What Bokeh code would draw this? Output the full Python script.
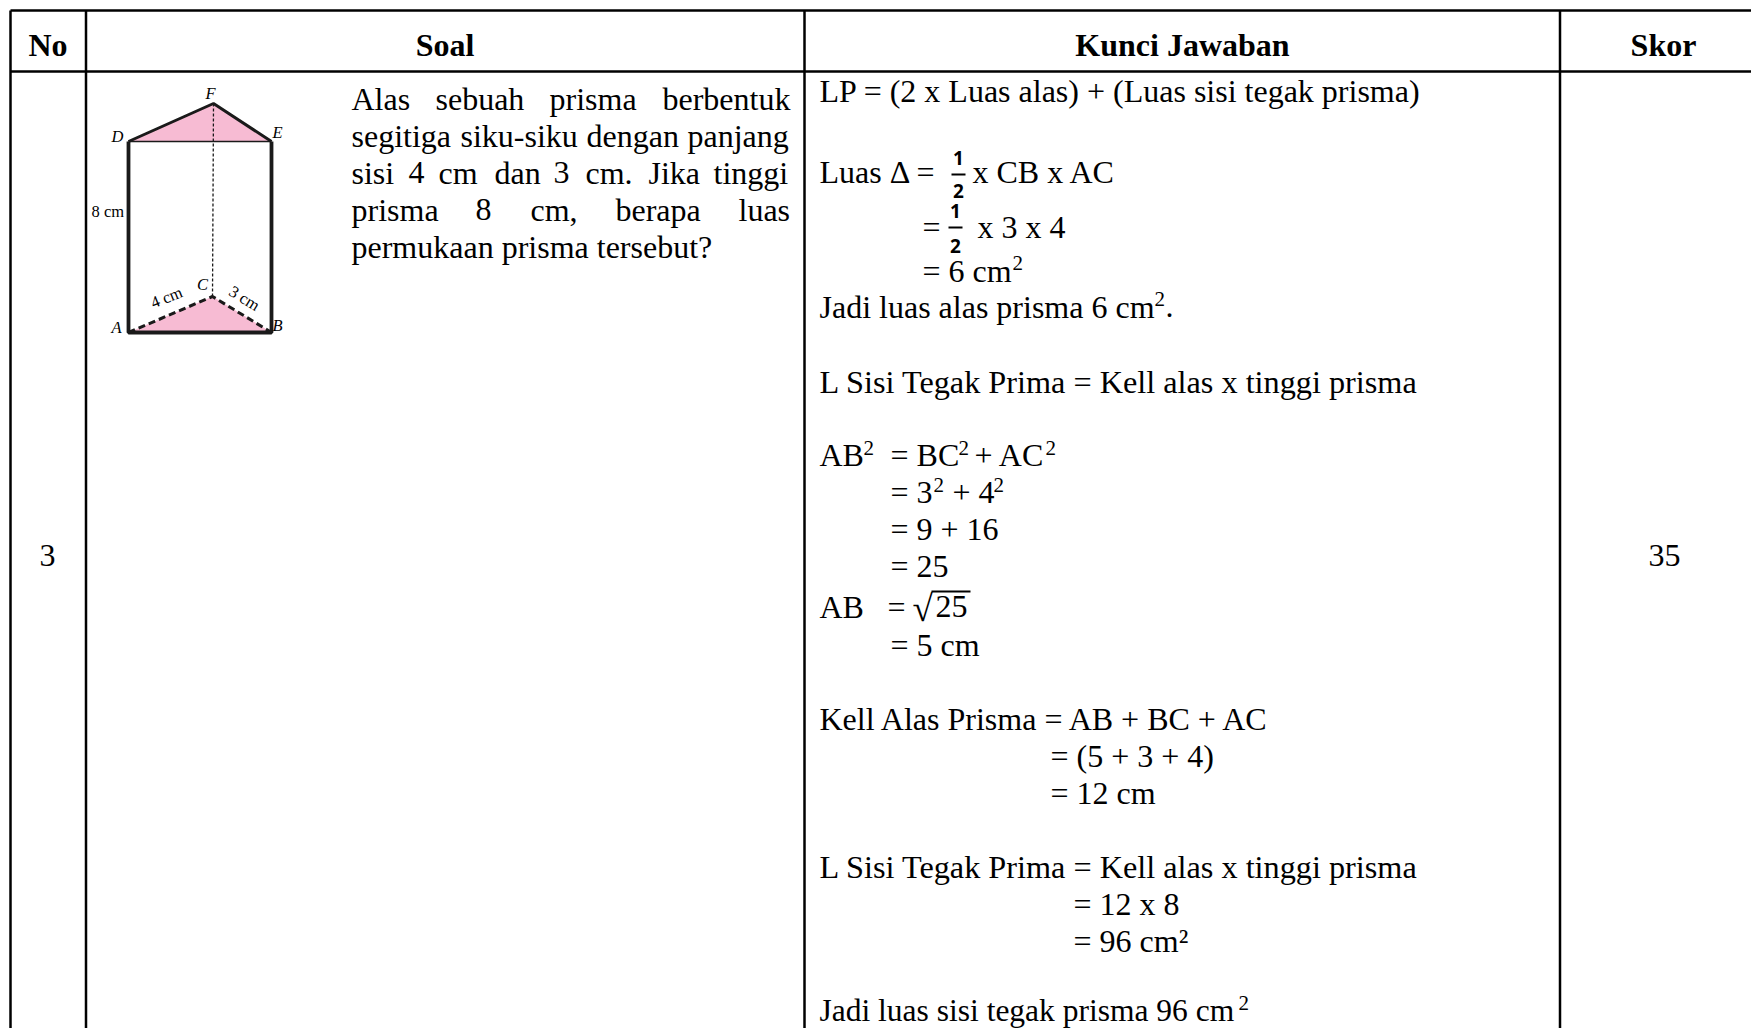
from bokeh.plotting import figure
from bokeh.models import Range1d, ColumnDataSource
from bokeh.core.properties import value
from bokeh.embed import file_html
from bokeh.resources import INLINE

SERIF = "Liberation Serif"
BIG = 32

# Table structure
col_edges = [10, 85.5, 804, 1559.5]
row_edges = [10, 71]
headers = ["No", "Soal", "Kunci Jawaban", "Skor"]
header_x = [47.5, 444.5, 1182, 1663]
row_no, row_score = "3", "35"

# Question text (word, x, baseline)
q_words = ["Alas", "sebuah", "prisma", "berbentuk",
           "segitiga", "siku-siku", "dengan", "panjang",
           "sisi", "4", "cm", "dan", "3", "cm.", "Jika", "tinggi",
           "prisma", "8", "cm,", "berapa", "luas",
           "permukaan prisma tersebut?"]
q_x = [351, 435, 549, 662, 351, 460, 586, 687, 351, 408, 438, 494, 553, 585, 648, 713,
       351, 475, 530, 615, 738, 351]
q_y = [110]*4 + [147]*4 + [184]*8 + [221]*5 + [258]

# Answer text
a_text = ["LP = (2 x Luas alas) + (Luas sisi tegak prisma)",
          "Luas \u0394 =", "x CB x AC", "=", "x 3 x 4", "= 6 cm", "Jadi luas alas prisma 6 cm", ".",
          "AB", "= BC", "+ AC", "= 3", "+ 4", "= 9 + 16", "= 25", "AB", "=", "25", "= 5 cm",
          "Kell Alas Prisma = AB + BC + AC", "= (5 + 3 + 4)", "= 12 cm",
          "= 12 x 8", "= 96 cm\u00b2"]
a_x = [819, 819, 972, 922, 977, 922, 819, 1165, 819, 890, 974, 890, 952, 890, 890, 819, 887, 935, 890,
       819, 1050, 1050, 1073, 1073]
a_y = [102, 183, 183, 238, 238, 282, 318, 318, 466, 466, 466, 503, 503, 540, 577, 618, 618, 618, 656,
       730, 767, 804, 915, 952]

# Lines set slightly wider or narrower than the rest
sisi_text = ["L Sisi Tegak Prima = Kell alas x tinggi prisma"] * 2
sisi_x = [819, 819]
sisi_y = [393, 878]
last_text = ["Jadi luas sisi tegak prisma 96 cm"]
last_x = [819]
last_y = [1022]

# Superscripts
sup_x = [1012, 1154, 863, 958, 1045, 933, 993, 1238]
sup_y = [270, 306, 455, 455, 455, 492, 492, 1010]

# Fractions: centre x, numerator baseline, bar y, denominator baseline
frac_x = [958, 955]
frac_num_y = [165, 218]
frac_bar_y = [174, 227]
frac_den_y = [198, 253]

# Prism vertices
A, B, C = (128, 332), (271, 332), (212, 296)
D, E, F = (128, 141), (271, 141), (213, 103)
PINK = "#F7BBD3"
v_text = ["F", "D", "E", "C", "A", "B"]
v_x = [210, 117, 277, 202, 116, 277]
v_y = [99, 142, 138, 290, 333, 331]

p = figure(width=1751, height=1028, output_backend="svg", toolbar_location=None,
           x_range=Range1d(0, 1751), y_range=Range1d(1028, 0),
           min_border=0, outline_line_color=None, background_fill_color="white", border_fill_color="white")
p.xaxis.visible = False
p.yaxis.visible = False
p.grid.visible = False

# table lines
for x in col_edges:
    p.line([x, x], [row_edges[0], 1028], line_color="black", line_width=2.5)
for y in row_edges:
    p.line([col_edges[0], 1751], [y, y], line_color="black", line_width=2.5)

def txt(xs, ys, ts, size=BIG, style="normal", align="left", font=SERIF, angle=0):
    src = ColumnDataSource(dict(x=xs, y=ys, t=ts))
    p.text("x", "y", text="t", source=src, text_font=value(font), text_font_size=value(f"{size}px"),
           text_font_style=value(style), text_align=value(align), text_baseline=value("alphabetic"),
           text_color="black", angle=angle, y_offset=-0.37 * size)

txt(header_x, [56]*4, headers, style="bold", align="center")
txt([47, 1664], [567, 567], [row_no, row_score], align="center")
txt(q_x, q_y, q_words)
txt(a_x, a_y, a_text)
txt(sisi_x, sisi_y, sisi_text, size=32.25)
txt(last_x, last_y, last_text, size=31.5)
txt(sup_x, sup_y, ["2"]*len(sup_x), size=21)

# fractions
txt(frac_x, frac_num_y, ["1"]*2, size=19, style="bold", align="center", font="Noto Sans")
txt(frac_x, frac_den_y, ["2"]*2, size=19, style="bold", align="center", font="Noto Sans")
for cx, y in zip(frac_x, frac_bar_y):
    p.line([cx - 7, cx + 7], [y, y], line_color="black", line_width=2)
# root sign and bar
txt([912], [622], ["\u221a"], size=37)
p.line([931, 970], [591, 591], line_color="black", line_width=2)

# prism
INK = "#1a1a1a"
p.patch([D[0], E[0], F[0]], [D[1], E[1], F[1]], fill_color=PINK, line_color=None)
p.patch([A[0], B[0], C[0]], [A[1], B[1], C[1]], fill_color=PINK, line_color=None)
p.line([F[0], C[0]], [F[1], C[1]], line_color=INK, line_width=1.3, line_dash="3 2")
p.line([D[0], F[0], E[0]], [D[1], F[1], E[1]], line_color=INK, line_width=3)
p.line([D[0], E[0]], [D[1], E[1]], line_color=INK, line_width=1.5)
p.line([D[0], A[0], B[0], E[0]], [D[1], A[1], B[1], E[1]], line_color=INK, line_width=3.8)
p.line([A[0], C[0], B[0]], [A[1], C[1], B[1]], line_color=INK, line_width=3, line_dash="7 4")

txt(v_x, v_y, v_text, size=16.5, style="italic", align="center")
txt([91], [217], ["8 cm"], size=16.5)
txt([166], [303], ["4 cm"], size=16.5, align="center", angle=0.38)
txt([244], [304], ["3 cm"], size=16.5, align="center", angle=-0.55)

open("out.html", "w").write(file_html(p, INLINE))
